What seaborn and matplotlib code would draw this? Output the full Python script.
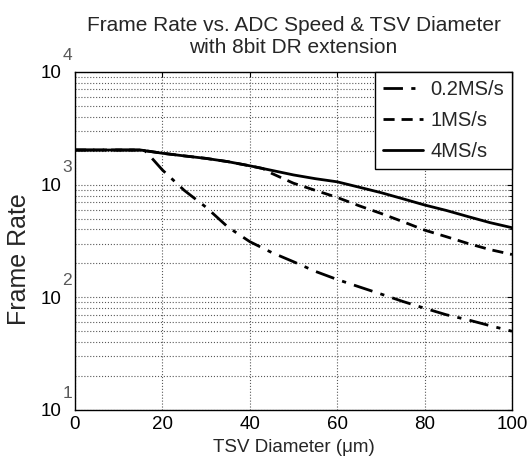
import numpy as np
import matplotlib
matplotlib.use("Agg")
import matplotlib.pyplot as plt
import seaborn as sns
from matplotlib.ticker import LogLocator, FixedLocator, FixedFormatter

sns.set_style("white")
plt.rcParams["font.family"] = ["Liberation Sans", "DejaVu Sans"]

# data
x_02 = [0, 5, 10, 15, 16, 18, 20, 25, 30, 35, 40, 45, 50, 55, 60, 65, 70, 75, 80, 85, 90, 95, 100]
fr_02 = [2030, 2030, 2030, 2030, 2000, 1650, 1350, 890, 630, 420, 312, 250, 207, 170, 144, 124, 107, 92, 80, 70, 63, 56, 50]

x_1 = [0, 5, 10, 15, 20, 25, 30, 35, 40, 43, 45, 50, 55, 60, 65, 70, 75, 80, 85, 90, 95, 100]
fr_1 = [2030, 2030, 2030, 2030, 1900, 1800, 1710, 1600, 1470, 1390, 1260, 1030, 890, 770, 650, 556, 470, 395, 345, 300, 265, 240]

x_4 = [0, 5, 10, 15, 20, 25, 30, 35, 40, 45, 50, 55, 60, 65, 70, 75, 80, 85, 90, 95, 100]
fr_4 = [2030, 2030, 2030, 2030, 1900, 1800, 1710, 1600, 1470, 1340, 1220, 1130, 1060, 950, 850, 750, 660, 590, 520, 460, 415]

labels = ["0.2MS/s", "1MS/s", "4MS/s"]
y_ticks = [10, 100, 1000, 10000]
y_exps = ["1", "2", "3", "4"]

fig = plt.figure(figsize=(5.3, 4.69), dpi=100)
ax = fig.add_axes([0.1415, 0.1258, 0.8245, 0.7207])

sns.lineplot(x=x_02, y=fr_02, ax=ax, color="black", lw=2, label=labels[0])
sns.lineplot(x=x_1, y=fr_1, ax=ax, color="black", lw=2, label=labels[1])
sns.lineplot(x=x_4, y=fr_4, ax=ax, color="black", lw=2, label=labels[2])
ax.lines[0].set_dashes([7, 3, 1.5, 3])
ax.lines[1].set_dashes([4, 2.5])

ax.set_yscale("log")
ax.set_xlim(0, 100)
ax.set_ylim(10, 1e4)
ax.xaxis.set_major_locator(FixedLocator([0, 20, 40, 60, 80, 100]))
ax.yaxis.set_major_locator(FixedLocator(y_ticks))
ax.yaxis.set_major_formatter(FixedFormatter(["10"] * len(y_ticks)))
ax.yaxis.set_minor_locator(LogLocator(base=10, subs=np.arange(2, 10), numticks=20))

# MATLAB-style exponents above the "10"
for v, e in zip(y_ticks, y_exps):
    ax.annotate(e, xy=(0, v), xycoords=("axes fraction", "data"),
                xytext=(-9, 12), textcoords="offset points",
                fontsize=12.5, color="0.35", ha="left", va="center")

ax.grid(True, which="major", axis="x", color="0.35", linestyle=":", lw=0.8)
ax.grid(True, which="both", axis="y", color="0.35", linestyle=":", lw=0.8)
ax.tick_params(direction="in", top=True, right=True, which="both", labelsize=13.5, colors="black")
ax.tick_params(axis="y", which="major", pad=10)
ax.tick_params(axis="x", which="major", pad=4)
for s in ax.spines.values():
    s.set_color("black")
    s.set_linewidth(1)

ax.set_xlabel("TSV Diameter (\u03bcm)", fontsize=13.5, labelpad=5)
ax.set_ylabel("Frame Rate", fontsize=18)
ax.yaxis.set_label_coords(-0.10, 0.447)
ax.set_title("Frame Rate vs. ADC Speed & TSV Diameter\nwith 8bit DR extension", fontsize=15, pad=14, linespacing=1.2)

leg = ax.legend(loc="upper right", borderaxespad=0, fontsize=14.5, handlelength=2.0,
                handletextpad=0.35, borderpad=0.4, fancybox=False, edgecolor="black",
                framealpha=1, labelspacing=0.6)
leg.get_frame().set_linewidth(1)

fig.savefig("out.png", dpi=100)
